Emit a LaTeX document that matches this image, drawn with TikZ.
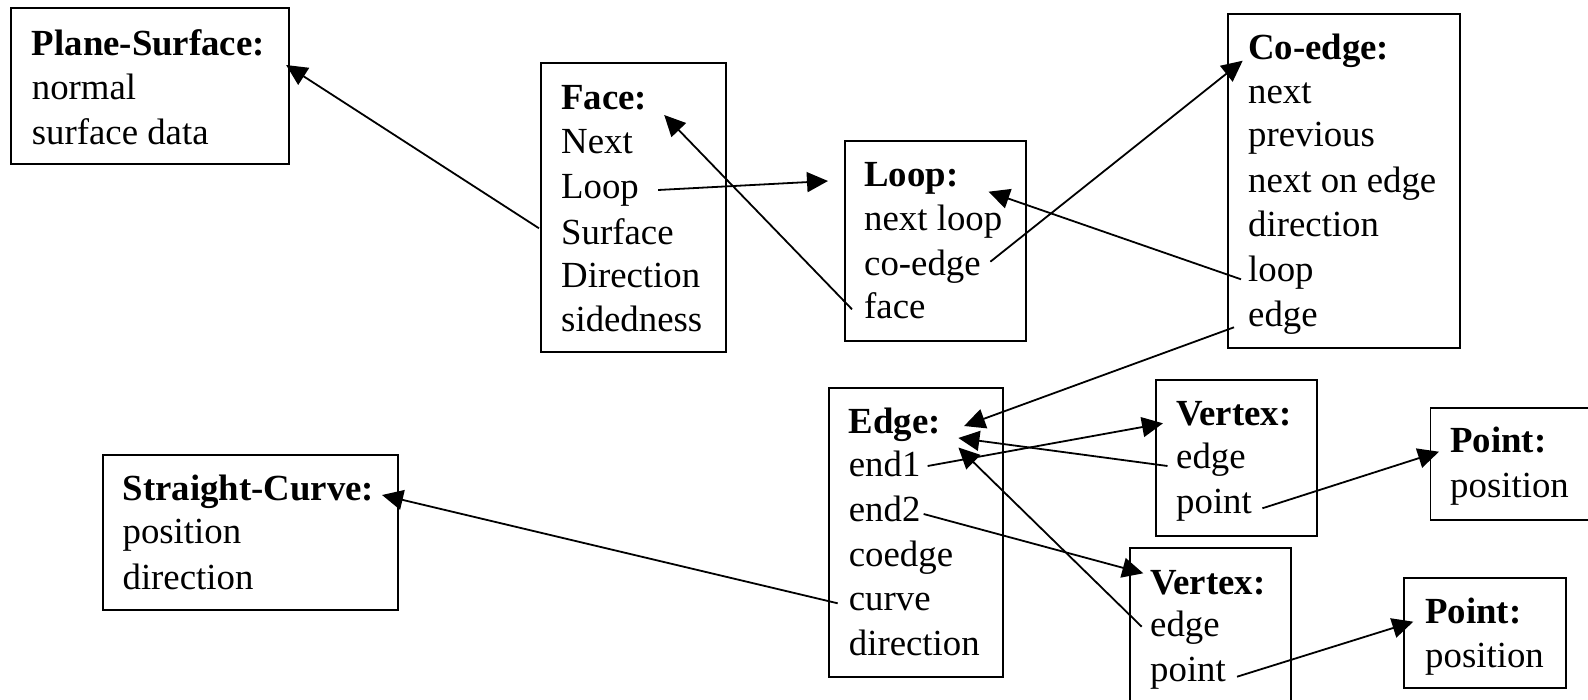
\documentclass[tikz,border=0pt]{standalone}
\usepackage{fontspec}
\setmainfont{Liberation Serif}
\usetikzlibrary{arrows.meta}

\tikzset{
  box/.style={draw, line width=1.9pt, rectangle, inner sep=0pt, anchor=north west},
  item/.style={anchor=base west, inner sep=0pt, font=\fontsize{36.8}{44.5}\selectfont},
  head/.style={item, font=\fontsize{36.8}{44.5}\selectfont\bfseries},
  link/.style={line width=1.8pt, -{Triangle[length=21pt,width=20pt]}},
}

\begin{document}
\begin{tikzpicture}[x=1pt, y=-1pt]
\fill[white] (0,0) rectangle (1588,699);
\clip (0,0) rectangle (1588,699);

% ---- boxes (top-left corner, width, height)
\node[box, minimum width=278pt, minimum height=156pt] (planebox) at (10.3,7.3) {};
\node[box, minimum width=185pt, minimum height=289pt] (facebox)  at (539.6,62.3) {};
\node[box, minimum width=181pt, minimum height=200pt] (loopbox)  at (843.7,140) {};
\node[box, minimum width=232pt, minimum height=334pt] (coedgebox) at (1227,12.7) {};
\node[box, minimum width=295pt, minimum height=155pt] (curvebox) at (102,454) {};
\node[box, minimum width=174pt, minimum height=289pt] (edgebox)  at (827.6,386.7) {};
\node[box, minimum width=161pt, minimum height=156pt] (vertA)    at (1154.8,378.7) {};
\node[box, minimum width=161pt, minimum height=180pt] (vertB)    at (1129.3,547.3) {};
\node[box, minimum width=190pt, minimum height=112pt] (pointA)   at (1429.5,407.3) {};
\node[box, minimum width=162pt, minimum height=110pt] (pointB)   at (1403.3,576.7) {};

% ---- Plane-Surface
\node[head] (plane-t) at (31.7,55) {Plane-Surface:};
\node[item] (plane-n) at (31.7,99.3) {normal};
\node[item] (plane-d) at (31.7,144) {surface data};

% ---- Face
\node[head] (face-t) at (561,109.3) {Face:};
\node[item] (face-next) at (561,153.3) {Next};
\node[item] (face-loop) at (561,198.3) {Loop};
\node[item] (face-surf) at (561,244.3) {Surface};
\node[item] (face-dir)  at (561,287.3) {Direction};
\node[item] (face-side) at (561,331.7) {sidedness};

% ---- Loop
\node[head] (loop-t) at (864,186.7) {Loop:};
\node[item] (loop-next) at (864,230) {next loop};
\node[item] (loop-co)   at (864,275) {co-edge};
\node[item] (loop-face) at (864,318.3) {face};

% ---- Co-edge
\node[head] (co-t) at (1248,59.3) {Co-edge:};
\node[item] (co-next) at (1248,103.3) {next};
\node[item] (co-prev) at (1248,146.7) {previous};
\node[item] (co-noe)  at (1248,192.7) {next on edge};
\node[item] (co-dir)  at (1248,236.7) {direction};
\node[item] (co-loop) at (1248,281.7) {loop};
\node[item] (co-edge) at (1248,326.7) {edge};

% ---- Straight-Curve
\node[head] (sc-t) at (122.4,500) {Straight-Curve:};
\node[item] (sc-pos) at (122.4,543) {position};
\node[item] (sc-dir) at (122.4,589) {direction};

% ---- Edge
\node[head] (edge-t) at (848.7,433) {Edge:};
\node[item] (edge-e1)  at (848.7,476.7) {end1};
\node[item] (edge-e2)  at (848.7,521.7) {end2};
\node[item] (edge-co)  at (848.7,566) {coedge};
\node[item] (edge-cv)  at (848.7,610) {curve};
\node[item] (edge-dir) at (848.7,655) {direction};

% ---- Vertices
\node[head] (va-t) at (1176,425) {Vertex:};
\node[item] (va-edge)  at (1176,468.3) {edge};
\node[item] (va-point) at (1176,513.3) {point};

\node[head] (vb-t) at (1150,594) {Vertex:};
\node[item] (vb-edge)  at (1150,636.7) {edge};
\node[item] (vb-point) at (1150,681.7) {point};

% ---- Points
\node[head] (pa-t) at (1450,452) {Point:};
\node[item] (pa-pos) at (1450,497) {position};

\node[head] (pb-t) at (1425,623.3) {Point:};
\node[item] (pb-pos) at (1425,667.3) {position};

% ---- references
\draw[link] ([xshift=-22pt,yshift=16pt]face-surf.base west) -- ([xshift=21pt,yshift=-10pt]plane-t.base east);
\draw[link] ([xshift=19pt,yshift=8.3pt]face-loop.base east) -- ([xshift=-36pt,yshift=5.7pt]loop-t.base west);
\draw[link] ([xshift=-12pt,yshift=9pt]loop-face.base west) -- ([xshift=17pt,yshift=-5.7pt]face-t.base east);
\draw[link] ([xshift=9.5pt,yshift=13.3pt]loop-co.base east) -- ([xshift=-5.3pt,yshift=-1.4pt]co-t.base west);
\draw[link] ([xshift=-7pt,yshift=2.4pt]co-loop.base west) -- ([xshift=30pt,yshift=-5pt]loop-t.base east);
\draw[link] ([xshift=-14pt,yshift=-0.6pt]co-edge.base west) -- ([xshift=23pt,yshift=7pt]edge-t.base east);
\draw[link] ([xshift=7pt,yshift=10.7pt]edge-e1.base east) -- ([xshift=-13pt,yshift=1.7pt]va-t.base west);
\draw[link] ([xshift=-8.5pt,yshift=2.3pt]va-edge.base west) -- ([xshift=17.3pt,yshift=-5pt]edge-t.base east);
\draw[link] ([xshift=-8.3pt,yshift=10pt]vb-edge.base west) -- ([xshift=17.3pt,yshift=-14.5pt]edge-t.base east);
\draw[link] ([xshift=3pt,yshift=7.7pt]edge-e2.base east) -- ([xshift=-6.7pt,yshift=20.7pt]vb-t.base west);
\draw[link] ([xshift=10.3pt,yshift=5pt]va-point.base east) -- ([xshift=-11pt,yshift=0.3pt]pa-t.base west);
\draw[link] ([xshift=11pt,yshift=5pt]vb-point.base east) -- ([xshift=-11.7pt,yshift=1.6pt]pb-t.base west);
\draw[link] ([xshift=-11pt,yshift=6.7pt]edge-cv.base west) -- ([xshift=7.8pt,yshift=5pt]sc-t.base east);
\end{tikzpicture}
\end{document}
